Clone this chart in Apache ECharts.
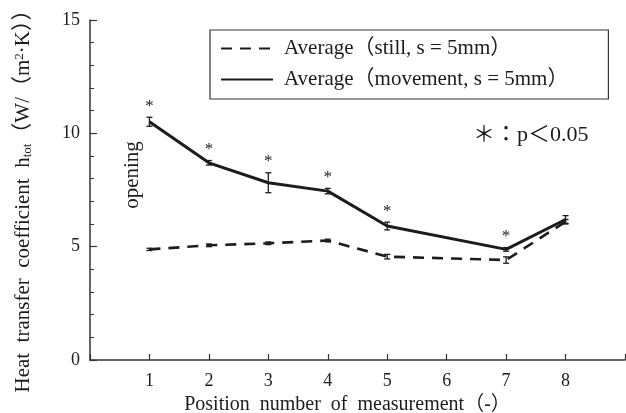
<!DOCTYPE html>
<html>
<head>
<meta charset="utf-8">
<script src="https://cdn.jsdelivr.net/npm/echarts@6/dist/echarts.min.js"></script>
<style>html,body{margin:0;padding:0;background:#fff;}#c{width:626px;height:413px;}</style>
</head>
<body>
<div id="c"></div>
<script>
// ---- data ----
const positions = [1, 2, 3, 4, 5, 7, 8];
const xTickLabels = ['1', '2', '3', '4', '5', '6', '7', '8'];
const stillAvg = [4.88, 5.06, 5.15, 5.27, 4.56, 4.41, 6.1];
const stillErr = [0.05, 0.06, 0.06, 0.06, 0.1, 0.14, 0.1];
const moveAvg = [10.51, 8.7, 7.82, 7.45, 5.91, 4.88, 6.2];
const moveErr = [0.2, 0.1, 0.44, 0.12, 0.17, 0.08, 0.17];
const moveSig = [1, 1, 1, 1, 1, 1, 0];
const legendNames = ['Average（still, s = 5mm）', 'Average（movement, s = 5mm）'];

const FONT = '"Liberation Serif", "DejaVu Serif", "Noto Sans CJK JP", serif';
const INK = '#1c1c1c';

const chart = echarts.init(document.getElementById('c'));

function errRender(params, api) {
  const x = api.value(0), y = api.value(1), e = api.value(2), s = api.value(3);
  const top = api.coord([x, y + e]);
  const bot = api.coord([x, y - e]);
  const st = {stroke: INK, lineWidth: 1.3};
  const ch = [
    {type: 'line', shape: {x1: top[0], y1: top[1], x2: bot[0], y2: bot[1]}, style: st},
    {type: 'line', shape: {x1: top[0] - 3, y1: top[1], x2: top[0] + 3, y2: top[1]}, style: st},
    {type: 'line', shape: {x1: bot[0] - 3, y1: bot[1], x2: bot[0] + 3, y2: bot[1]}, style: st}
  ];
  if (s) {
    ch.push({type: 'text', x: top[0], y: top[1] - 11,
      style: {text: '*', fill: INK, font: '17px ' + FONT, align: 'center', verticalAlign: 'middle'}});
  }
  return {type: 'group', children: ch};
}

const option = {
  backgroundColor: '#fff',
  animation: false,
  grid: {left: 90, right: 1, top: 20, bottom: 53, containLabel: false, outerBoundsMode: 'none'},
  legend: {
    orient: 'vertical', left: 210, top: 30,
    padding: [8, 40, 9, 10],
    borderColor: '#333', borderWidth: 1.2,
    itemWidth: 52, itemHeight: 20, itemGap: 10,
    data: legendNames,
    itemStyle: {opacity: 0},
    textStyle: {fontFamily: FONT, fontSize: 21, color: INK, padding: [0, 0, 0, 6]}
  },
  xAxis: {
    type: 'value', min: 0, max: 9, interval: 1,
    name: 'Position  number  of  measurement（-）',
    nameLocation: 'middle', nameGap: 33,
    nameTextStyle: {fontFamily: FONT, fontSize: 20, color: INK, padding: [0, 20, 0, 0]},
    axisLine: {lineStyle: {color: '#333', width: 1.5}},
    axisTick: {inside: true, length: 6, lineStyle: {color: '#333', width: 1.2}},
    axisLabel: {fontFamily: FONT, fontSize: 18, color: INK, margin: 12,
      formatter: v => (v >= 1 && v <= 8) ? xTickLabels[v - 1] : ''},
    splitLine: {show: false}
  },
  yAxis: {
    type: 'value', min: 0, max: 15, interval: 5,
    name: 'Heat  transfer  coefficient  h{sub|tot}（W/（m{sup|2}·K））',
    nameLocation: 'middle', nameGap: 56,
    nameTextStyle: {fontFamily: FONT, fontSize: 21, color: INK, padding: [0, 12, 0, 0],
      rich: {
        sub: {fontFamily: FONT, fontSize: 13, color: INK, verticalAlign: 'bottom', padding: [7, 0, 0, 0]},
        sup: {fontFamily: FONT, fontSize: 13, color: INK, verticalAlign: 'top', padding: [0, 0, 7, 0]}
      }},
    axisLine: {show: true, lineStyle: {color: '#333', width: 1.5}},
    axisTick: {show: true, inside: true, length: 7, lineStyle: {color: '#333', width: 1.2}},
    minorTick: {show: true, splitNumber: 5, length: 4, lineStyle: {color: '#333', width: 1}},
    axisLabel: {fontFamily: FONT, fontSize: 18, color: INK, margin: 10},
    splitLine: {show: false}
  },
  graphic: [
    {type: 'text', x: 132, y: 175, rotation: Math.PI / 2,
      style: {text: 'opening', font: '21px ' + FONT, fill: INK, align: 'center', verticalAlign: 'middle'}},
    {type: 'text', x: 473, y: 135,
      style: {text: '＊：p＜0.05', font: '22px ' + FONT, fill: INK, align: 'left', verticalAlign: 'middle'}}
  ],
  series: [
    {
      name: legendNames[0], type: 'line',
      data: positions.map((p, i) => [p, stillAvg[i]]),
      showSymbol: false, symbol: 'none',
      lineStyle: {color: INK, width: 2.6, type: [11, 8]},
      itemStyle: {color: INK}
    },
    {
      name: legendNames[1], type: 'line',
      data: positions.map((p, i) => [p, moveAvg[i]]),
      showSymbol: false, symbol: 'none',
      lineStyle: {color: INK, width: 3},
      itemStyle: {color: INK}
    },
    {
      type: 'custom', renderItem: errRender,
      data: positions.map((p, i) => [p, stillAvg[i], stillErr[i], 0]),
      z: 5
    },
    {
      type: 'custom', renderItem: errRender,
      data: positions.map((p, i) => [p, moveAvg[i], moveErr[i], moveSig[i]]),
      z: 5
    }
  ]
};
chart.setOption(option);
</script>
</body>
</html>
